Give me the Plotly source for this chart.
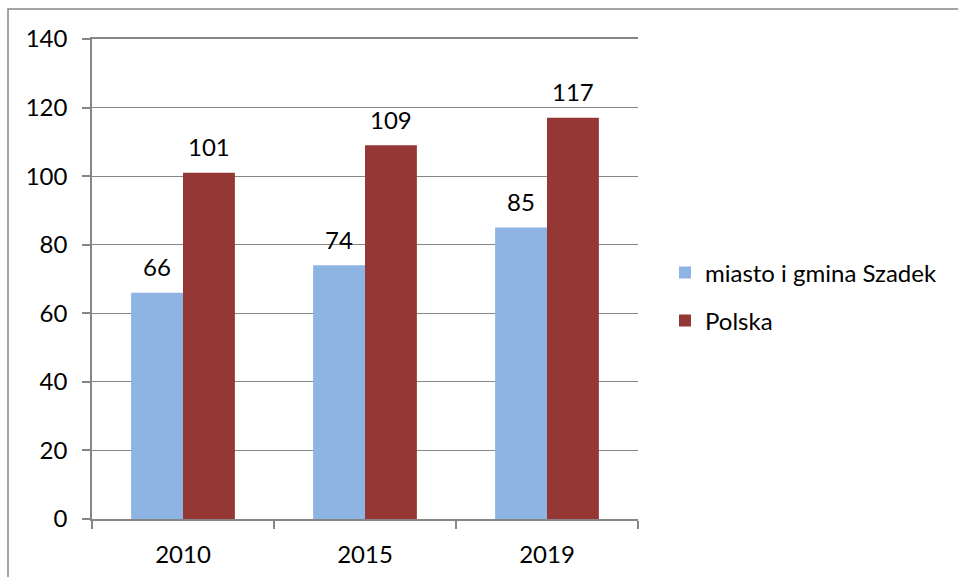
import plotly.graph_objects as go

categories = ["2010", "2015", "2019"]
szadek = [66, 74, 85]
polska = [101, 109, 117]
series_names = ["miasto i gmina Szadek", "Polska"]
y_ticks = [0, 20, 40, 60, 80, 100, 120, 140]

BLUE = "#8DB4E2"
RED = "#953735"
GRID = "#868686"
FONT = "Lato"
FS = 24

fig = go.Figure()
fig.add_trace(go.Bar(x=categories, y=szadek, name=series_names[0], marker_color=BLUE,
                     marker_line_width=0, legend="legend"))
fig.add_trace(go.Bar(x=categories, y=polska, name=series_names[1], marker_color=RED,
                     marker_line_width=0, legend="legend2"))

annotations = []
for i, c in enumerate(categories):
    for j, vals in enumerate([szadek, polska]):
        annotations.append(dict(x=i, y=vals[i], xref="x", yref="y", text=str(vals[i]),
                                showarrow=False, yanchor="middle", yshift=26,
                                xshift=(-26 if j == 0 else 26),
                                font=dict(family=FONT, size=FS, color="#000")))

leg_common = dict(xanchor="left", yanchor="middle", font=dict(family=FONT, size=FS),
                  itemsizing="constant", itemwidth=30, bgcolor="rgba(0,0,0,0)")
fig.update_layout(
    width=958, height=577,
    margin=dict(l=92, r=320, t=39, b=58, pad=0, autoexpand=False),
    paper_bgcolor="white", plot_bgcolor="white",
    barmode="group", bargap=0.43, bargroupgap=0,
    font=dict(family=FONT, size=FS, color="#000"),
    showlegend=True,
    legend=dict(x=(665 - 92) / 546, y=(519 - 273) / 480, **leg_common),
    legend2=dict(x=(665 - 92) / 546, y=(519 - 321) / 480, **leg_common),
    annotations=annotations,
    shapes=[dict(type="rect", xref="paper", yref="paper",
                 x0=(8 - 92) / 546, x1=(965 - 92) / 546,
                 y0=(519 - 590) / 480, y1=(519 - 9) / 480,
                 line=dict(color=GRID, width=1.5), fillcolor="rgba(0,0,0,0)", layer="below")],
)
fig.update_yaxes(range=[0, 140], tickvals=y_ticks, showgrid=True, gridcolor=GRID, gridwidth=1,
                 showline=True, linecolor=GRID, linewidth=1.5, ticks="outside", ticklen=8,
                 tickcolor=GRID, tickwidth=1.5, zeroline=False, ticklabelstandoff=10,
                 tickfont=dict(family=FONT, size=FS), automargin=False)
fig.update_xaxes(type="category", range=[-0.5, 2.5], showline=True, mirror=True,
                 linecolor=GRID, linewidth=1.5, ticks="outside", ticklen=8, tickcolor=GRID,
                 tickwidth=1.5, tickson="boundaries", ticklabelstandoff=13, tickangle=0,
                 automargin=False, tickfont=dict(family=FONT, size=FS))

fig.write_html("out.html", config={"displayModeBar": False},
               post_script="document.body.style.margin='0';")
